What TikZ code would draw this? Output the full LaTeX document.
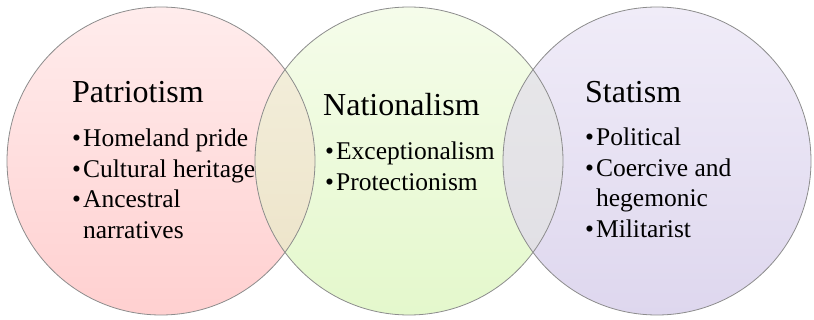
\documentclass[tikz,border=0pt]{standalone}
\usepackage{fontspec}
\setmainfont{Liberation Serif}
\usepackage{tikz}
\usepackage{xcolor}
\usetikzlibrary{
    shapes,
    calc,
    positioning
}

\definecolor{pinktop}{RGB}{255,236,236}
\definecolor{pinkbot}{RGB}{255,208,208}
\definecolor{greentop}{RGB}{245,252,234}
\definecolor{greenbot}{RGB}{228,248,204}
\definecolor{lavtop}{RGB}{240,236,248}
\definecolor{lavbot}{RGB}{222,215,238}
\definecolor{pgtop}{RGB}{244,240,222}
\definecolor{pgbot}{RGB}{236,226,198}
\definecolor{grtop}{RGB}{232,232,234}
\definecolor{grbot}{RGB}{224,222,228}
\definecolor{rim}{RGB}{140,140,140}

\tikzset{
    venn/.style={circle, minimum size=308pt, inner sep=0pt},
    rimline/.style={draw=rim, line width=0.8pt},
    heading/.style={anchor=base west, inner sep=0pt, font=\fontsize{32}{38}\selectfont},
    lst/.style={anchor=base west, inner sep=0pt, font=\fontsize{25.5}{30.5}\selectfont}
}

\begin{document}
\begin{tikzpicture}[x=1pt, y=-1pt]
                        \useasboundingbox (0, 0) rectangle (814, 320);

                        % the three sets
                        \node[venn, top color=pinktop, bottom color=pinkbot] (p) at (161, 161) {};
                        \node[venn, top color=greentop, bottom color=greenbot] (n) at (409, 161) {};
                        \node[venn, top color=lavtop, bottom color=lavbot] (s) at (657, 161) {};

                        % overlaps
                        \begin{scope}
                            \clip (p.center) circle (154pt);
                            \shade[top color=pgtop, bottom color=pgbot] (n.center) circle (154pt);
                        \end{scope}
                        \begin{scope}
                            \clip (n.center) circle (154pt);
                            \shade[top color=grtop, bottom color=grbot] (s.center) circle (154pt);
                        \end{scope}

                        \draw[rimline] (p.center) circle (154pt);
                        \draw[rimline] (n.center) circle (154pt);
                        \draw[rimline] (s.center) circle (154pt);

                        % headings
                        \node[heading] (pt) at (72, 103) {Patriotism};
                        \node[heading] (nt) at (323, 116) {Nationalism};
                        \node[heading] (st) at (585, 103) {Statism};

                        % lists
                        \node[lst] (pl) at (72, 147) {\begin{tabular}[t]{@{}l@{\hspace{2pt}}l@{}}
                            \textbullet & Homeland pride\\
                            \textbullet & Cultural heritage\\
                            \textbullet & Ancestral\\
                                        & narratives
                        \end{tabular}};
                        \node[lst] (nl) at (325, 160) {\begin{tabular}[t]{@{}l@{\hspace{2pt}}l@{}}
                            \textbullet & Exceptionalism\\
                            \textbullet & Protectionism
                        \end{tabular}};
                        \node[lst] (sl) at (585, 146) {\begin{tabular}[t]{@{}l@{\hspace{2pt}}l@{}}
                            \textbullet & Political\\
                            \textbullet & Coercive and\\
                                        & hegemonic\\
                            \textbullet & Militarist
                        \end{tabular}};
                    \end{tikzpicture}
\end{document}
